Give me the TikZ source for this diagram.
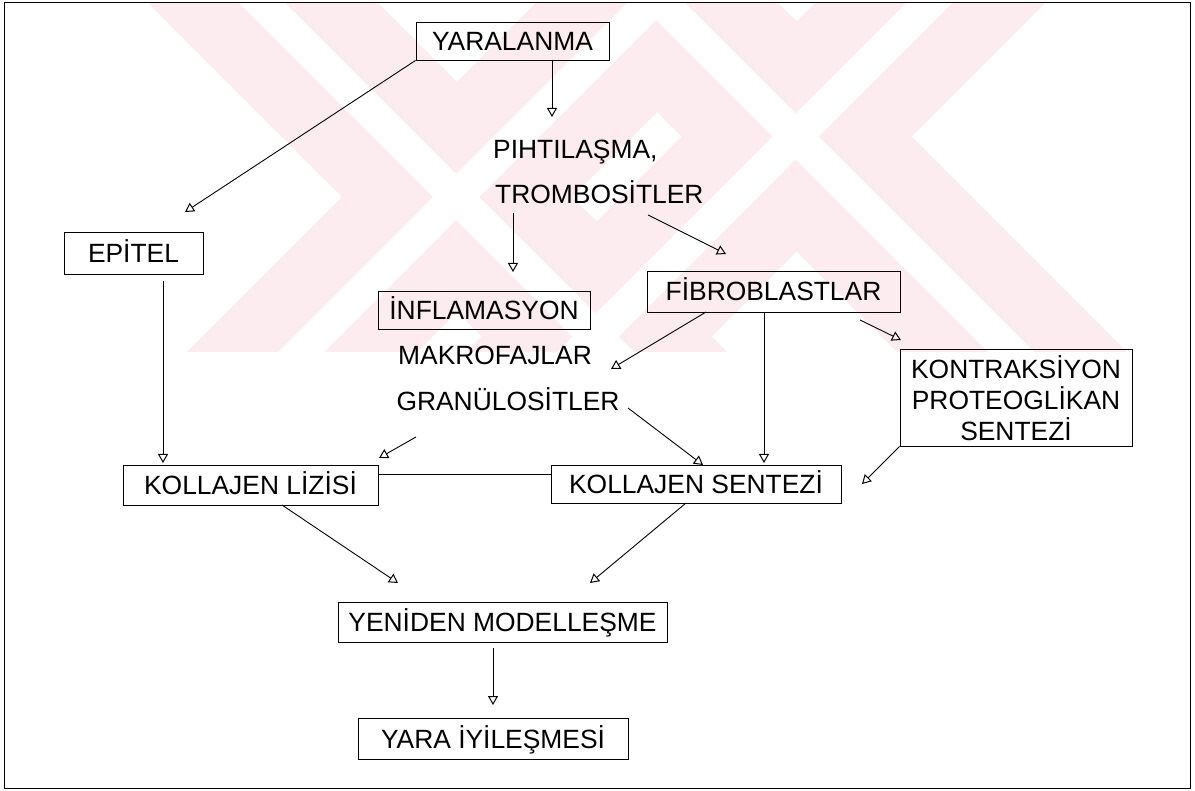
\documentclass[tikz,border=0pt]{standalone}
\usepackage{fontspec}
\setmainfont{Liberation Sans}
\usetikzlibrary{arrows.meta}
\definecolor{wm}{RGB}{253,236,239}
\newcommand\bandR[2]{\fill (#1,0) -- ++(#2,0) -- ++(360,360) -- ++(-#2,0) -- cycle;}
\newcommand\bandL[2]{\fill (#1,0) -- ++(#2,0) -- ++(-360,360) -- ++(-#2,0) -- cycle;}
\tikzset{
  lbl/.style={font=\fontsize{26.4}{31}\selectfont, inner sep=0pt, text height=19pt, text depth=0pt},
  bx/.style n args={2}{lbl, draw, line width=0.9pt, minimum width=#1, minimum height=#2},
  arr/.style={line width=0.9pt, -{Triangle[open,length=9pt,width=10pt,line width=1pt]}},
  ln/.style={line width=0.9pt}
}
\begin{document}
\begin{tikzpicture}[x=1pt,y=-1pt]
\useasboundingbox (0,0) rectangle (1195,791);
\fill[white] (0,0) rectangle (1195,791);
% watermark
\begin{scope}
  \clip (5,3) rectangle (1189,352);
  \begin{scope}[wm]
    \bandR{145}{230}
    \bandL{539}{230}
    \bandL{818}{230}
    \bandR{545}{230}
  \end{scope}
  \begin{scope}[white]
    \bandR{236}{46}
    \bandL{630}{46}
    \bandL{909}{46}
    \bandR{636}{46}
  \end{scope}
\end{scope}
% frame
\draw[line width=1pt] (4,3) rectangle (1190,788);
% nodes
\node[bx={193}{38}] (yaral) at (512.5,41) {YARALANMA};
\node[bx={139}{42}] (epitel) at (133.5,253) {EPİTEL};
\node[lbl,anchor=west] (pihti) at (493,149) {PIHTILAŞMA,};
\node[lbl,anchor=west] (trombo) at (495,194) {TROMBOSİTLER};
\node[bx={212}{38}] (inflam) at (484,310) {İNFLAMASYON};
\node[lbl] (makro) at (495,355) {MAKROFAJLAR};
\node[lbl] (granu) at (508,401) {GRANÜLOSİTLER};
\node[bx={253}{41}] (fibro) at (773.5,291.5) {FİBROBLASTLAR};
\node[bx={232}{97}] (kontr) at (1016,397.5) {};
\node[lbl] (k1) at (1016,369) {KONTRAKSİYON};
\node[lbl] (k2) at (1016,400) {PROTEOGLİKAN};
\node[lbl] (k3) at (1016,431) {SENTEZİ};
\node[bx={255}{40}] (lizisi) at (250.5,485) {KOLLAJEN LİZİSİ};
\node[bx={290}{38}] (sentez) at (696,484) {KOLLAJEN SENTEZİ};
\node[bx={329}{40}] (yeniden) at (502.5,622) {YENİDEN MODELLEŞME};
\node[bx={270}{41}] (yara) at (493,738.5) {YARA İYİLEŞMESİ};
% connector end points
\coordinate (e1) at (185,212);
\coordinate (s2) at (552,60);   \coordinate (e2) at (552,117);
\coordinate (s3) at (513,213);  \coordinate (e3) at (513,272);
\coordinate (s4) at (648,215);  \coordinate (e4) at (726,254);
\coordinate (s5) at (706,312);  \coordinate (e5) at (611,369);
\coordinate (s6) at (764,312);  \coordinate (e6) at (764,463);
\coordinate (s7) at (860,320);  \coordinate (e7) at (901,340);
\coordinate (s8) at (163,281);  \coordinate (e8) at (163,463);
\coordinate (s9) at (416,437);  \coordinate (e9) at (379,458);
\coordinate (s10) at (628,408); \coordinate (e10) at (703,465);
\coordinate (e11) at (862,484);
\coordinate (s12) at (282,505); \coordinate (e12) at (398,583);
\coordinate (s13) at (686,503); \coordinate (e13) at (590,583);
\coordinate (s14) at (493,648); \coordinate (e14) at (493,705);
% connectors
\draw[arr] (yaral.south west) -- (e1);
\draw[arr] (s2) -- (e2);
\draw[arr] (s3) -- (e3);
\draw[arr] (s4) -- (e4);
\draw[arr] (s5) -- (e5);
\draw[arr] (s6) -- (e6);
\draw[arr] (s7) -- (e7);
\draw[arr] (s8) -- (e8);
\draw[arr] (s9) -- (e9);
\draw[arr] (s10) -- (e10);
\draw[arr] (kontr.south west) -- (e11);
\draw[arr] (s12) -- (e12);
\draw[arr] (s13) -- (e13);
\draw[arr] (s14) -- (e14);
\draw[ln] ([yshift=11pt]lizisi.east) -- ([yshift=10pt]sentez.west);
\end{tikzpicture}
\end{document}
